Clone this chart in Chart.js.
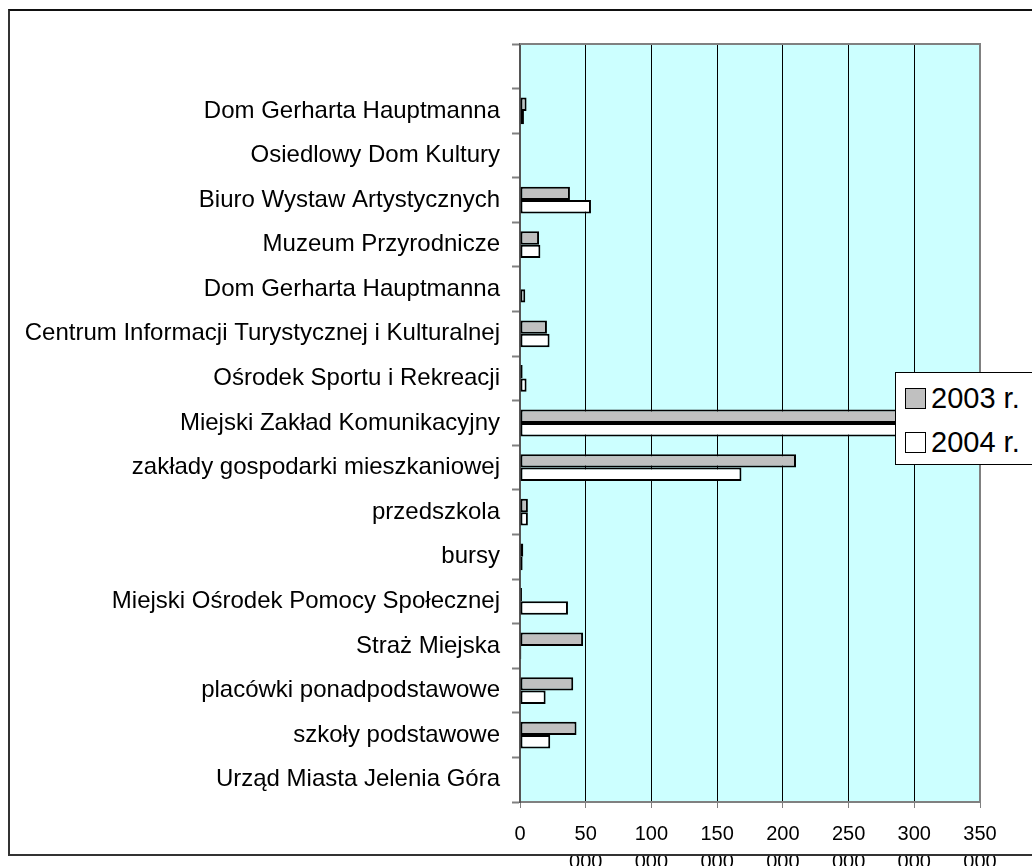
<!DOCTYPE html>
<html>
<head>
<meta charset="utf-8">
<script src="https://cdn.jsdelivr.net/npm/chart.js@4"></script>
<style>
  body { margin: 0; background: #fff; }
  #wrap { position: relative; width: 1032px; height: 866px; overflow: hidden; }
  #frame {
    position: absolute; left: 8px; top: 9px; width: 1100px; height: 843px;
    border-left: 2px solid #333; border-top: 2px solid #111; border-bottom: 2px solid #333;
    pointer-events: none;
  }
  #legend {
    position: absolute; left: 895px; top: 372px; width: 200px; height: 91px;
    background: #fff; border: 1px solid #000;
    font-family: "Liberation Sans", Arial, sans-serif; font-size: 29px; color: #000;
  }
  .row { position: absolute; left: 9px; height: 30px; line-height: 30px; }
  .sw { display: inline-block; width: 19px; height: 19px; border: 1px solid #000; vertical-align: -1px; margin-right: 5px; }
</style>
</head>
<body>
<div id="wrap">
  <canvas id="bar-chart" width="1032" height="866"></canvas>
  <div id="frame"></div>
  <div id="legend">
    <div class="row" style="top:10px"><span class="sw" style="background:#c0c0c0"></span>2003 r.</div>
    <div class="row" style="top:54px"><span class="sw" style="background:#fff"></span>2004 r.</div>
  </div>
</div>
<script>
const barChart = document.getElementById("bar-chart");

const categories = [
  "",
  "Dom Gerharta Hauptmanna",
  "Osiedlowy Dom Kultury",
  "Biuro Wystaw Artystycznych",
  "Muzeum Przyrodnicze",
  "Dom Gerharta Hauptmanna",
  "Centrum Informacji Turystycznej i Kulturalnej",
  "Ośrodek Sportu i Rekreacji",
  "Miejski Zakład Komunikacyjny",
  "zakłady gospodarki mieszkaniowej",
  "przedszkola",
  "bursy",
  "Miejski Ośrodek Pomocy Społecznej",
  "Straż Miejska",
  "placówki ponadpodstawowe",
  "szkoły podstawowe",
  "Urząd Miasta Jelenia Góra",
];

const values2003 = [null, 5000, null, 38000, 14500, null, 20500, 2000, 310000, 210000, 6000, 2500, 1500, 48000, 40500, 43000, null];
const values2004 = [null, 3000, null, 54000, 15500, 4000, 22500, 5000, 315000, 168500, 6000, 2000, 36500, 1000, 19500, 23000, null];

const xTickLabels = ["0", "50 000", "100 000", "150 000", "200 000", "250 000", "300 000", "350 000"];

const plotBackground = {
  id: "plotBackground",
  beforeDraw(chart) {
    const { ctx, chartArea: a } = chart;
    ctx.save();
    ctx.fillStyle = "#ccffff";
    ctx.fillRect(a.left, a.top, a.right - a.left, a.bottom - a.top);
    ctx.restore();
  },
  afterDraw(chart) {
    const { ctx, chartArea: a } = chart;
    ctx.save();
    ctx.strokeStyle = "#808080";
    ctx.lineWidth = 2;
    ctx.beginPath();
    ctx.moveTo(a.left, a.top);
    ctx.lineTo(a.right, a.top);
    ctx.lineTo(a.right, a.bottom);
    ctx.stroke();
    ctx.restore();
  },
};

new Chart(barChart, {
  type: "bar",
  data: {
    labels: categories,
    datasets: [
      {
        label: "2003 r.",
        data: values2003,
        backgroundColor: "#c0c0c0",
        borderColor: "#000",
        borderWidth: 2,
        borderSkipped: false,
        barPercentage: 1,
        categoryPercentage: 0.6,
      },
      {
        label: "2004 r.",
        data: values2004,
        backgroundColor: "#ffffff",
        borderColor: "#000",
        borderWidth: 2,
        borderSkipped: false,
        barPercentage: 1,
        categoryPercentage: 0.6,
      },
    ],
  },
  options: {
    indexAxis: "y",
    responsive: false,
    animation: false,
    layout: { padding: { top: 44, right: 52, left: 0, bottom: 0 } },
    plugins: {
      legend: { display: false },
      tooltip: { enabled: false },
    },
    scales: {
      x: {
        min: 0,
        max: 350000,
        afterFit(scale) {
          scale.height = 64;
        },
        afterBuildTicks(scale) {
          scale.ticks = xTickLabels.map((t) => ({ value: Number(t.replace(" ", "")) }));
        },
        ticks: {
          color: "#000",
          font: { family: "'Liberation Sans', Arial, sans-serif", size: 20, lineHeight: 1.4 },
          padding: 12,
          maxRotation: 0,
          autoSkip: false,
          callback: (v, i) => xTickLabels[i].split(" "),
        },
        grid: {
          color: "#000",
          lineWidth: 1,
          tickLength: 6,
          tickColor: "#808080",
        },
        border: { color: "#808080", width: 2 },
      },
      y: {
        afterFit(scale) {
          scale.width = 520;
        },
        ticks: {
          color: "#000",
          font: { family: "'Liberation Sans', Arial, sans-serif", size: 24 },
          padding: 12,
          autoSkip: false,
        },
        grid: {
          drawOnChartArea: false,
          tickLength: 8,
          tickColor: "#808080",
          tickWidth: 2,
        },
        border: { color: "#555", width: 2 },
      },
    },
  },
  plugins: [plotBackground],
});
</script>
</body>
</html>
